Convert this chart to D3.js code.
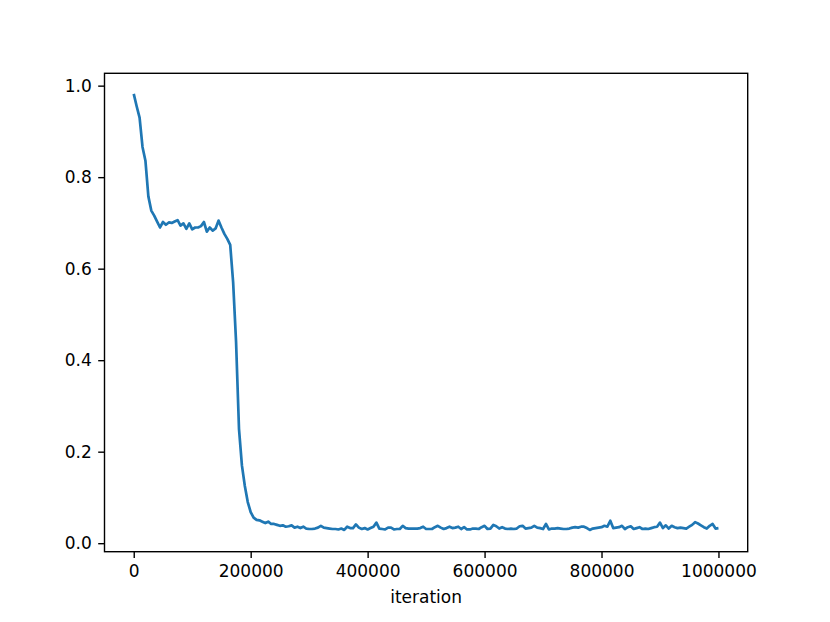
<!DOCTYPE html>
<html>
<head>
<meta charset="utf-8">
<script src="https://cdn.jsdelivr.net/npm/d3@7"></script>
<style>
  html, body { margin: 0; padding: 0; background: #ffffff; }
  svg { display: block; }
  text { font-family: "DejaVu Sans", sans-serif; fill: #000; }
</style>
</head>
<body>
<script>
// ---- data (iteration step 5000, 0 .. 1,000,000) ----
const stepSize = 5000;
const lossValues = [
  0.982, 0.955, 0.930, 0.866, 0.836, 0.758, 0.727, 0.716, 0.703, 0.690,
  0.702, 0.696, 0.701, 0.700, 0.703, 0.706, 0.694, 0.699, 0.687, 0.699,
  0.686, 0.690, 0.690, 0.693, 0.702, 0.681, 0.690, 0.683, 0.688, 0.705,
  0.690, 0.676, 0.665, 0.652, 0.570, 0.440, 0.250, 0.170, 0.125, 0.090,
  0.068, 0.056, 0.051, 0.050, 0.047, 0.044, 0.047, 0.042, 0.042, 0.040,
  0.038, 0.039, 0.036, 0.037, 0.039, 0.034, 0.036, 0.033, 0.036, 0.032,
  0.031, 0.031, 0.032, 0.034, 0.038, 0.034, 0.033, 0.032, 0.031, 0.031,
  0.030, 0.032, 0.029, 0.036, 0.033, 0.033, 0.041, 0.034, 0.031, 0.033,
  0.030, 0.033, 0.036, 0.045, 0.032, 0.031, 0.030, 0.034, 0.034, 0.030,
  0.031, 0.031, 0.038, 0.033, 0.032, 0.032, 0.032, 0.032, 0.033, 0.036,
  0.031, 0.031, 0.031, 0.035, 0.038, 0.034, 0.031, 0.033, 0.036, 0.033,
  0.034, 0.036, 0.031, 0.035, 0.030, 0.030, 0.032, 0.032, 0.031, 0.035,
  0.038, 0.031, 0.032, 0.040, 0.037, 0.032, 0.035, 0.032, 0.031, 0.032,
  0.031, 0.032, 0.037, 0.038, 0.032, 0.033, 0.034, 0.038, 0.034, 0.033,
  0.031, 0.042, 0.030, 0.032, 0.032, 0.033, 0.032, 0.031, 0.031, 0.032,
  0.034, 0.035, 0.034, 0.036, 0.036, 0.033, 0.029, 0.032, 0.033, 0.034,
  0.035, 0.038, 0.036, 0.049, 0.033, 0.034, 0.035, 0.038, 0.031, 0.035,
  0.037, 0.031, 0.033, 0.035, 0.031, 0.032, 0.031, 0.033, 0.035, 0.036,
  0.045, 0.033, 0.039, 0.032, 0.038, 0.035, 0.033, 0.034, 0.033, 0.032,
  0.036, 0.040, 0.046, 0.043, 0.039, 0.035, 0.032, 0.038, 0.042, 0.032,
  0.033
];
const xTicks = [0, 200000, 400000, 600000, 800000, 1000000];
const yTicks = [0.0, 0.2, 0.4, 0.6, 0.8, 1.0];
const xLabel = "iteration";

// ---- layout ----
const W = 830, H = 622;
const plot = { left: 104.5, right: 747.7, top: 73.3, bottom: 551.7 };
const fontPx = 17;
const lineColor = "#1f77b4";

const data = lossValues.map((v, i) => ({ it: i * stepSize, v }));

const x = d3.scaleLinear().domain([-50000, 1050000]).range([plot.left, plot.right]);
const y = d3.scaleLinear().domain([-0.0186, 1.027]).range([plot.bottom, plot.top]);

const svg = d3.select("body").append("svg")
  .attr("width", W).attr("height", H);
svg.append("rect").attr("width", W).attr("height", H).attr("fill", "#fff");

// line
const clipId = "plotclip";
svg.append("clipPath").attr("id", clipId).append("rect")
  .attr("x", plot.left).attr("y", plot.top)
  .attr("width", plot.right - plot.left).attr("height", plot.bottom - plot.top);

svg.append("path")
  .datum(data)
  .attr("clip-path", `url(#${clipId})`)
  .attr("fill", "none")
  .attr("stroke", lineColor)
  .attr("stroke-width", 2.7)
  .attr("stroke-linejoin", "round")
  .attr("stroke-linecap", "butt")
  .attr("d", d3.line().x(d => x(d.it)).y(d => y(d.v)));

// axes
const xAxis = d3.axisBottom(x).tickValues(xTicks).tickFormat(d3.format("d"))
  .tickSizeInner(6.3).tickSizeOuter(0).tickPadding(6.5);
const yAxis = d3.axisLeft(y).tickValues(yTicks).tickFormat(d3.format(".1f"))
  .tickSizeInner(6.3).tickSizeOuter(0).tickPadding(6.5);

const gx = svg.append("g").attr("transform", `translate(0,${plot.bottom})`).call(xAxis);
const gy = svg.append("g").attr("transform", `translate(${plot.left},0)`).call(yAxis);

[gx, gy].forEach(g => {
  g.select(".domain").remove();
  g.selectAll(".tick line").attr("stroke", "#000").attr("stroke-width", 1.4);
  g.selectAll(".tick text")
    .attr("font-family", "DejaVu Sans, sans-serif")
    .attr("font-size", fontPx).attr("fill", "#000");
});
gx.selectAll(".tick text").attr("dy", "0.71em");

// frame (spines)
svg.append("rect")
  .attr("x", plot.left).attr("y", plot.top)
  .attr("width", plot.right - plot.left).attr("height", plot.bottom - plot.top)
  .attr("fill", "none").attr("stroke", "#000").attr("stroke-width", 1.4);

// x label
svg.append("text")
  .attr("x", (plot.left + plot.right) / 2)
  .attr("y", 603)
  .attr("text-anchor", "middle")
  .attr("font-size", fontPx)
  .text(xLabel);
</script>
</body>
</html>
